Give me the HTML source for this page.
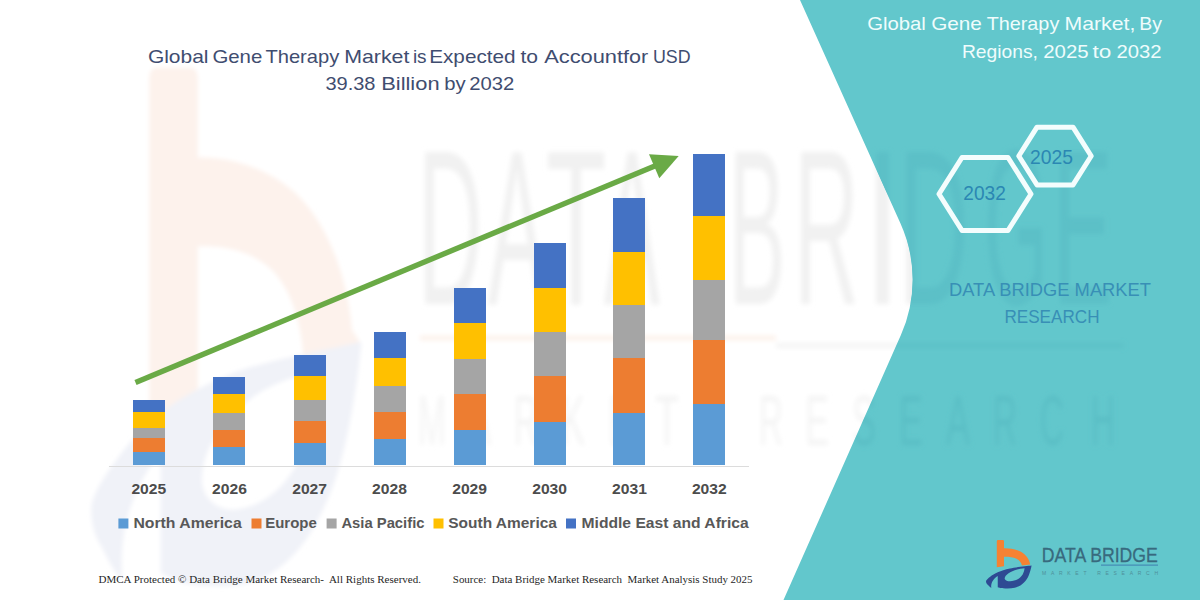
<!DOCTYPE html>
<html>
<head>
<meta charset="utf-8">
<title>Global Gene Therapy Market</title>
<style>
  html, body { margin: 0; padding: 0; background: #ffffff; }
  body { width: 1200px; height: 600px; overflow: hidden; font-family: "Liberation Sans", sans-serif; }
  svg { display: block; position: absolute; left: 0; top: 0; }
  text { font-family: "Liberation Sans", sans-serif; }
  .serif { font-family: "Liberation Serif", serif; }
</style>
</head>
<body>
<svg width="1200" height="600" viewBox="0 0 1200 600">
  <defs>
    <filter id="blur2" x="-10%" y="-10%" width="120%" height="120%"><feGaussianBlur stdDeviation="2"/></filter>
    <filter id="blur1" x="-10%" y="-10%" width="120%" height="120%"><feGaussianBlur stdDeviation="2.4"/></filter>
    <clipPath id="tealclip">
      <path d="M800,0 L900.5,223.4 A136.9,136.9 0 0 1 900.9,335.1 L783.5,600 L1200,600 L1200,0 Z"/>
    </clipPath>
    <clipPath id="whiteclip">
      <path d="M0,0 L800,0 L900.5,223.4 A136.9,136.9 0 0 1 900.9,335.1 L783.5,600 L0,600 Z"/>
    </clipPath>

    <!-- logo parts (native coords of the small bottom-right logo) -->
    <path id="logo-b" d="M995.8,541.2 Q995.8,540 997,540 L1002.8,540 Q1004,540 1004,541.2 L1004,548.4 C1010,548.3 1016.5,549.6 1021,552 C1026,554.8 1029.2,559.5 1030,564.5 L1031.4,565.7 L1021.8,567 C1021.4,563.5 1019.5,560.6 1016.5,558.9 C1013,557.1 1008.5,556.6 1004,556.7 L1004,570 L995.8,573.4 Z"/>
    <path id="logo-b2" d="M996.8,541.2 Q996.8,540 998,540 L1002.8,540 Q1004,540 1004,541.2 L1004,548.2 C1010,548.1 1016.5,549.4 1021,551.8 C1026,554.6 1029.4,559.3 1030.2,564.6 L1021.9,565.6 C1021.4,563 1019.5,560.4 1016.5,558.8 C1013,557.1 1008.5,556.6 1004,556.7 L1004,566.2 L996.8,567.2 Z"/>
    <path id="logo-s" fill-rule="evenodd" d="M1031.6,565.6 C1027,566.2 1016,567.3 1010,568.5 C1005,569.6 1001,570.9 998.3,572 C994.5,573.6 992,575.3 990.2,576.7 C988.2,578.2 986.6,579.6 986.1,580.8 C985.8,582.4 986.6,583.8 987.8,584.8 C988.8,586 990,587.2 991.3,588 C990.9,585.6 991.4,583.2 992.5,581.3 C993.8,579.2 995.6,577.3 997.75,576 L997.75,587.2 C1000,588 1002.6,588.4 1005.3,588.4 C1008.6,588.6 1011.8,588.4 1014.7,587.75 C1018.4,586.8 1021.6,585 1024,582.5 C1026,580.5 1027.6,578.2 1028.7,575.5 C1030,572.5 1031,569 1031.6,565.6 Z M1024.6,568.3 C1021.4,568.6 1017.8,569.3 1014.7,570.25 C1011.6,571.3 1008.6,573 1006.5,574.9 C1005.2,576.2 1004.5,577.6 1004.75,579 C1005.4,580.6 1007.6,581.3 1010,581.3 C1013,581.2 1015.8,580.4 1018.2,579 C1020.2,577.8 1021.7,576.2 1022.8,574.3 C1023.8,572.5 1024.4,570.4 1024.6,568.3 Z"/>
  </defs>

  <!-- white background -->
  <rect x="0" y="0" width="1200" height="600" fill="#ffffff"/>

  <!-- faint watermark on white side -->
  <g id="wm-left" filter="url(#blur2)"><g transform="translate(422,148) scale(5.93,10.7) translate(-1041.8,-547.5)">
    <use href="#logo-b" fill="#fdf2ec"/>
    <use href="#logo-s" fill="#f0f2f8"/>
  </g></g>

  <!-- teal panel -->
  <path d="M800,0 L900.5,223.4 A136.9,136.9 0 0 1 900.9,335.1 L783.5,600 L1200,600 L1200,0 Z" fill="#62c7cc"/>

  <!-- watermark big letters -->
  <g id="wm-text">
    <g clip-path="url(#whiteclip)"><g filter="url(#blur1)" fill="#f1f1f1" font-size="220">
      <text x="417.9" y="304" textLength="64.5" lengthAdjust="spacingAndGlyphs">D</text>
      <text x="488" y="304" textLength="57.8" lengthAdjust="spacingAndGlyphs">A</text>
      <text x="545.9" y="304" textLength="60.2" lengthAdjust="spacingAndGlyphs">T</text>
      <text x="604" y="304" textLength="55.8" lengthAdjust="spacingAndGlyphs">A</text>
      <text x="728.8" y="304" textLength="56.7" lengthAdjust="spacingAndGlyphs">B</text>
      <text x="793.9" y="304" textLength="65" lengthAdjust="spacingAndGlyphs">R</text>
      <text x="863.2" y="304" textLength="38.4" lengthAdjust="spacingAndGlyphs">I</text>
      <text x="898.3" y="304" textLength="70.6" lengthAdjust="spacingAndGlyphs">D</text>
      <text x="984.1" y="304" textLength="64.2" lengthAdjust="spacingAndGlyphs">G</text>
      <text x="1053" y="304" textLength="59.5" lengthAdjust="spacingAndGlyphs">E</text>
      <rect x="420" y="336" width="356" height="4" fill="#fcefe6"/>
      <rect x="776" y="343.5" width="348" height="4" fill="#f2f2f2"/>
      <g font-size="70" fill="#f4f4f4">
      <text x="418.0" y="445" textLength="28" lengthAdjust="spacingAndGlyphs">M</text>
      <text x="467.0" y="445" textLength="24" lengthAdjust="spacingAndGlyphs">A</text>
      <text x="514.0" y="445" textLength="24" lengthAdjust="spacingAndGlyphs">R</text>
      <text x="561.0" y="445" textLength="24" lengthAdjust="spacingAndGlyphs">K</text>
      <text x="608.0" y="445" textLength="24" lengthAdjust="spacingAndGlyphs">E</text>
      <text x="655.0" y="445" textLength="24" lengthAdjust="spacingAndGlyphs">T</text>
      <text x="759.0" y="445" textLength="24" lengthAdjust="spacingAndGlyphs">R</text>
      <text x="805.0" y="445" textLength="24" lengthAdjust="spacingAndGlyphs">E</text>
      <text x="852.0" y="445" textLength="24" lengthAdjust="spacingAndGlyphs">S</text>
      <text x="899.0" y="445" textLength="24" lengthAdjust="spacingAndGlyphs">E</text>
      <text x="946.0" y="445" textLength="24" lengthAdjust="spacingAndGlyphs">A</text>
      <text x="993.0" y="445" textLength="24" lengthAdjust="spacingAndGlyphs">R</text>
      <text x="1040.0" y="445" textLength="24" lengthAdjust="spacingAndGlyphs">C</text>
      <text x="1091.0" y="445" textLength="24" lengthAdjust="spacingAndGlyphs">H</text>
      </g>
    </g></g>
    <g clip-path="url(#tealclip)"><g filter="url(#blur1)" fill="#5cc0c7" font-size="220">
      <text x="417.9" y="304" textLength="64.5" lengthAdjust="spacingAndGlyphs">D</text>
      <text x="488" y="304" textLength="57.8" lengthAdjust="spacingAndGlyphs">A</text>
      <text x="545.9" y="304" textLength="60.2" lengthAdjust="spacingAndGlyphs">T</text>
      <text x="604" y="304" textLength="55.8" lengthAdjust="spacingAndGlyphs">A</text>
      <text x="728.8" y="304" textLength="56.7" lengthAdjust="spacingAndGlyphs">B</text>
      <text x="793.9" y="304" textLength="65" lengthAdjust="spacingAndGlyphs">R</text>
      <text x="863.2" y="304" textLength="38.4" lengthAdjust="spacingAndGlyphs">I</text>
      <text x="898.3" y="304" textLength="70.6" lengthAdjust="spacingAndGlyphs">D</text>
      <text x="984.1" y="304" textLength="64.2" lengthAdjust="spacingAndGlyphs">G</text>
      <text x="1053" y="304" textLength="59.5" lengthAdjust="spacingAndGlyphs">E</text>
      <rect x="776" y="343.5" width="348" height="4" fill="#5cc0c6"/>
      <g font-size="70" fill="#5abec5">
      <text x="418.0" y="445" textLength="28" lengthAdjust="spacingAndGlyphs">M</text>
      <text x="467.0" y="445" textLength="24" lengthAdjust="spacingAndGlyphs">A</text>
      <text x="514.0" y="445" textLength="24" lengthAdjust="spacingAndGlyphs">R</text>
      <text x="561.0" y="445" textLength="24" lengthAdjust="spacingAndGlyphs">K</text>
      <text x="608.0" y="445" textLength="24" lengthAdjust="spacingAndGlyphs">E</text>
      <text x="655.0" y="445" textLength="24" lengthAdjust="spacingAndGlyphs">T</text>
      <text x="759.0" y="445" textLength="24" lengthAdjust="spacingAndGlyphs">R</text>
      <text x="805.0" y="445" textLength="24" lengthAdjust="spacingAndGlyphs">E</text>
      <text x="852.0" y="445" textLength="24" lengthAdjust="spacingAndGlyphs">S</text>
      <text x="899.0" y="445" textLength="24" lengthAdjust="spacingAndGlyphs">E</text>
      <text x="946.0" y="445" textLength="24" lengthAdjust="spacingAndGlyphs">A</text>
      <text x="993.0" y="445" textLength="24" lengthAdjust="spacingAndGlyphs">R</text>
      <text x="1040.0" y="445" textLength="24" lengthAdjust="spacingAndGlyphs">C</text>
      <text x="1091.0" y="445" textLength="24" lengthAdjust="spacingAndGlyphs">H</text>
      </g>
    </g></g>
  </g>

  <!-- axis line -->
  <rect x="109" y="466" width="640" height="1" fill="#dcdcdc"/>

  <!-- bars -->
  <g id="bars" shape-rendering="crispEdges">
    <!-- 2025 -->
    <rect x="133" y="399.7" width="32" height="12.3" fill="#4472c4"/>
    <rect x="133" y="412" width="32" height="15.5" fill="#ffc000"/>
    <rect x="133" y="427.5" width="32" height="10.8" fill="#a5a5a5"/>
    <rect x="133" y="438.3" width="32" height="13.7" fill="#ed7d31"/>
    <rect x="133" y="452" width="32" height="13.4" fill="#5b9bd5"/>
    <!-- 2026 -->
    <rect x="213" y="376.6" width="32" height="17.7" fill="#4472c4"/>
    <rect x="213" y="394.3" width="32" height="18.7" fill="#ffc000"/>
    <rect x="213" y="413" width="32" height="16.8" fill="#a5a5a5"/>
    <rect x="213" y="429.8" width="32" height="17.6" fill="#ed7d31"/>
    <rect x="213" y="447.4" width="32" height="18" fill="#5b9bd5"/>
    <!-- 2027 -->
    <rect x="293.5" y="354.5" width="32" height="21.7" fill="#4472c4"/>
    <rect x="293.5" y="376.2" width="32" height="23.8" fill="#ffc000"/>
    <rect x="293.5" y="400" width="32" height="21" fill="#a5a5a5"/>
    <rect x="293.5" y="421" width="32" height="22.4" fill="#ed7d31"/>
    <rect x="293.5" y="443.4" width="32" height="22" fill="#5b9bd5"/>
    <!-- 2028 -->
    <rect x="373.6" y="331.8" width="32" height="26.6" fill="#4472c4"/>
    <rect x="373.6" y="358.4" width="32" height="27.6" fill="#ffc000"/>
    <rect x="373.6" y="386" width="32" height="26.2" fill="#a5a5a5"/>
    <rect x="373.6" y="412.2" width="32" height="26.8" fill="#ed7d31"/>
    <rect x="373.6" y="439" width="32" height="26.4" fill="#5b9bd5"/>
    <!-- 2029 -->
    <rect x="453.6" y="287.6" width="32" height="35.1" fill="#4472c4"/>
    <rect x="453.6" y="322.7" width="32" height="35.9" fill="#ffc000"/>
    <rect x="453.6" y="358.6" width="32" height="35.6" fill="#a5a5a5"/>
    <rect x="453.6" y="394.2" width="32" height="35.9" fill="#ed7d31"/>
    <rect x="453.6" y="430.1" width="32" height="35.3" fill="#5b9bd5"/>
    <!-- 2030 -->
    <rect x="533.6" y="243" width="32" height="44.7" fill="#4472c4"/>
    <rect x="533.6" y="287.7" width="32" height="44.5" fill="#ffc000"/>
    <rect x="533.6" y="332.2" width="32" height="44" fill="#a5a5a5"/>
    <rect x="533.6" y="376.2" width="32" height="45.5" fill="#ed7d31"/>
    <rect x="533.6" y="421.7" width="32" height="43.7" fill="#5b9bd5"/>
    <!-- 2031 -->
    <rect x="613.3" y="198" width="32" height="53.8" fill="#4472c4"/>
    <rect x="613.3" y="251.8" width="32" height="53.2" fill="#ffc000"/>
    <rect x="613.3" y="305" width="32" height="53.2" fill="#a5a5a5"/>
    <rect x="613.3" y="358.2" width="32" height="55" fill="#ed7d31"/>
    <rect x="613.3" y="413.2" width="32" height="52.2" fill="#5b9bd5"/>
    <!-- 2032 -->
    <rect x="693.4" y="154" width="32" height="61.8" fill="#4472c4"/>
    <rect x="693.4" y="215.8" width="32" height="63.7" fill="#ffc000"/>
    <rect x="693.4" y="279.5" width="32" height="60.7" fill="#a5a5a5"/>
    <rect x="693.4" y="340.2" width="32" height="63.5" fill="#ed7d31"/>
    <rect x="693.4" y="403.7" width="32" height="61.7" fill="#5b9bd5"/>
  </g>

  <!-- green arrow -->
  <g id="arrow">
    <line x1="135.5" y1="382.5" x2="656" y2="165.4" stroke="#6aaa46" stroke-width="5.4" stroke-linecap="butt"/>
    <polygon points="649,154.3 678.7,156 659.3,178.3" fill="#6aaa46"/>
  </g>

  <!-- chart title -->
  <g fill="#3f4d70" font-size="18.6">
    <text x="147.9" y="62.5" textLength="60.6" lengthAdjust="spacingAndGlyphs">Global</text>
    <text x="212.4" y="62.5" textLength="49.9" lengthAdjust="spacingAndGlyphs">Gene</text>
    <text x="265.4" y="62.5" textLength="73.9" lengthAdjust="spacingAndGlyphs">Therapy</text>
    <text x="344.2" y="62.5" textLength="65.2" lengthAdjust="spacingAndGlyphs">Market</text>
    <text x="412.9" y="62.5" textLength="13.7" lengthAdjust="spacingAndGlyphs">is</text>
    <text x="429.2" y="62.5" textLength="86.4" lengthAdjust="spacingAndGlyphs">Expected</text>
    <text x="520.5" y="62.5" textLength="17.6" lengthAdjust="spacingAndGlyphs">to</text>
    <text x="544.2" y="62.5" textLength="78.9" lengthAdjust="spacingAndGlyphs">Account</text>
    <text x="623.0" y="62.5" textLength="25.1" lengthAdjust="spacingAndGlyphs">for</text>
    <text x="653.0" y="62.5" textLength="37.6" lengthAdjust="spacingAndGlyphs">USD</text>
    <text x="325.4" y="89.5" textLength="50.1" lengthAdjust="spacingAndGlyphs">39.38</text>
    <text x="381.2" y="89.5" textLength="58.4" lengthAdjust="spacingAndGlyphs">Billion</text>
    <text x="444.2" y="89.5" textLength="21.4" lengthAdjust="spacingAndGlyphs">by</text>
    <text x="469.2" y="89.5" textLength="45.1" lengthAdjust="spacingAndGlyphs">2032</text>
  </g>

  <!-- year labels -->
  <g fill="#4c4c4c" font-size="15.2" font-weight="bold">
    <text x="131.4" y="494" textLength="34.8" lengthAdjust="spacingAndGlyphs">2025</text>
    <text x="212.1" y="494" textLength="34.8" lengthAdjust="spacingAndGlyphs">2026</text>
    <text x="292.2" y="494" textLength="34.8" lengthAdjust="spacingAndGlyphs">2027</text>
    <text x="372.1" y="494" textLength="34.8" lengthAdjust="spacingAndGlyphs">2028</text>
    <text x="452.2" y="494" textLength="34.8" lengthAdjust="spacingAndGlyphs">2029</text>
    <text x="532.2" y="494" textLength="34.8" lengthAdjust="spacingAndGlyphs">2030</text>
    <text x="612.1" y="494" textLength="34.8" lengthAdjust="spacingAndGlyphs">2031</text>
    <text x="691.9" y="494" textLength="34.8" lengthAdjust="spacingAndGlyphs">2032</text>
  </g>

  <!-- legend -->
  <g id="legend" font-size="15.2" font-weight="bold" fill="#585858">
    <rect x="118.4" y="518.5" width="10" height="10" fill="#5b9bd5"/>
    <text x="133.4" y="527.6" textLength="108.3" lengthAdjust="spacingAndGlyphs">North America</text>
    <rect x="251.5" y="518.5" width="10" height="10" fill="#ed7d31"/>
    <text x="265.2" y="527.6" textLength="51.6" lengthAdjust="spacingAndGlyphs">Europe</text>
    <rect x="326.6" y="518.5" width="10" height="10" fill="#a5a5a5"/>
    <text x="341.4" y="527.6" textLength="83.1" lengthAdjust="spacingAndGlyphs">Asia Pacific</text>
    <rect x="433.5" y="518.5" width="10" height="10" fill="#ffc000"/>
    <text x="448.3" y="527.6" textLength="108.6" lengthAdjust="spacingAndGlyphs">South America</text>
    <rect x="566" y="518.5" width="10" height="10" fill="#4472c4"/>
    <text x="581.5" y="527.6" textLength="167.2" lengthAdjust="spacingAndGlyphs">Middle East and Africa</text>
  </g>

  <!-- footer -->
  <g class="serif" font-size="10.7" fill="#1f1f1f">
    <text class="serif" x="98.5" y="582.7" textLength="322.5" lengthAdjust="spacingAndGlyphs" xml:space="preserve">DMCA Protected © Data Bridge Market Research-  All Rights Reserved.</text>
    <text class="serif" x="452.8" y="582.7" textLength="299.7" lengthAdjust="spacingAndGlyphs" xml:space="preserve">Source:  Data Bridge Market Research  Market Analysis Study 2025</text>
  </g>

  <!-- right panel title -->
  <g fill="#effcfc" font-size="18.2">
    <text x="867.2" y="30" textLength="58.7" lengthAdjust="spacingAndGlyphs">Global</text>
    <text x="931.2" y="30" textLength="50.7" lengthAdjust="spacingAndGlyphs">Gene</text>
    <text x="986.7" y="30" textLength="72.6" lengthAdjust="spacingAndGlyphs">Therapy</text>
    <text x="1064.5" y="30" textLength="70.8" lengthAdjust="spacingAndGlyphs">Market,</text>
    <text x="1139.2" y="30" textLength="22.7" lengthAdjust="spacingAndGlyphs">By</text>
    <text x="961.9" y="58" textLength="76.0" lengthAdjust="spacingAndGlyphs">Regions,</text>
    <text x="1043.2" y="58" textLength="45.4" lengthAdjust="spacingAndGlyphs">2025</text>
    <text x="1092.5" y="58" textLength="18.8" lengthAdjust="spacingAndGlyphs">to</text>
    <text x="1116.5" y="58" textLength="45.1" lengthAdjust="spacingAndGlyphs">2032</text>
  </g>

  <!-- hexagons -->
  <g fill="none" stroke="#f4fdfd" stroke-width="5" stroke-linejoin="round">
    <polygon points="939,194 962,157.5 1008,157.5 1031,194 1008,230.5 962,230.5"/>
    <polygon points="1018.8,156 1037,127.2 1073,127.2 1091.2,156 1073,184.9 1037,184.9"/>
  </g>
  <g fill="#2b87b3" font-size="20.2">
    <text x="963.3" y="200.2" textLength="42.5" lengthAdjust="spacingAndGlyphs">2032</text>
    <text x="1030" y="164.4" textLength="43" lengthAdjust="spacingAndGlyphs">2025</text>
  </g>

  <!-- DATA BRIDGE MARKET RESEARCH -->
  <g fill="#388fb6" font-size="18.8">
    <text x="949" y="295.6" textLength="202" lengthAdjust="spacingAndGlyphs">DATA BRIDGE MARKET</text>
    <text x="1004.4" y="322.6" textLength="95.2" lengthAdjust="spacingAndGlyphs">RESEARCH</text>
  </g>

  <!-- bottom-right logo -->
  <g id="logo">
    <use href="#logo-b2" fill="#f58233"/>
    <use href="#logo-s" fill="#2e4a93"/>
    <text x="1041.8" y="562.4" font-size="20.8" fill="#386a7e" stroke="#386a7e" stroke-width="0.3" textLength="116" lengthAdjust="spacingAndGlyphs">DATA BRIDGE</text>
    <rect x="1101" y="564.6" width="57" height="1" fill="#3f7fb0"/>
    <text x="1042" y="575" font-size="5" fill="#4f8f99" textLength="116" lengthAdjust="spacing">MARKET RESEARCH</text>
  </g>
</svg>
</body>
</html>
